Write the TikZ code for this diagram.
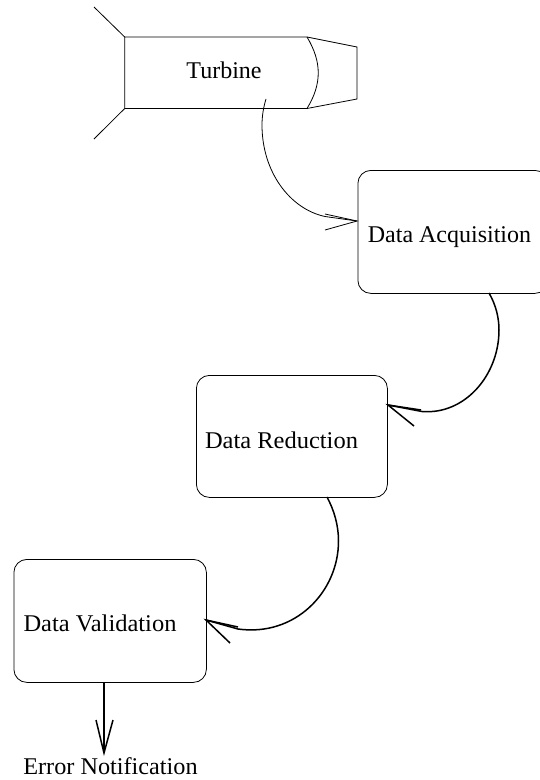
\documentclass[tikz,border=0pt]{standalone}
\usepackage{fontspec}
\setmainfont{Liberation Serif}
\tikzset{
  box/.style={draw=black,line width=0.8pt,rounded corners=13pt,inner sep=0pt,anchor=north west},
  lbl/.style={inner sep=0pt,anchor=base,font=\fontsize{24}{28}\selectfont,text=black},
  thin line/.style={draw=black,line width=0.8pt},
  thick line/.style={draw=black,line width=1.5pt}
}
\begin{document}
\begin{tikzpicture}[x=1pt,y=-1pt,line join=miter]
\useasboundingbox (0,0) rectangle (540,780);
\fill[white] (0,0) rectangle (540,780);
% turbine
\coordinate (wt) at (94,7);
\coordinate (wb) at (94,139);
\coordinate (tl) at (124.7,37);
\coordinate (bl) at (124.7,108.5);
\coordinate (tr) at (307,37);
\coordinate (br) at (307,108.5);
\coordinate (nt) at (357,47);
\coordinate (nb) at (357,99);
\draw[thin line] (wt) -- (tl) -- (tr) -- (nt) -- (nb) -- (br) -- (bl) -- (tl);
\draw[thin line] (wb) -- (bl);
\draw[thin line] (tr) .. controls (322,62) and (322,84) .. (br);
\node[lbl] (turbine) at (224,78) {Turbine};
% boxes
\node[box,minimum width=190pt,minimum height=123pt] (acq) at (357.5,170) {};
\node[box,minimum width=191pt,minimum height=122pt] (red) at (196,375) {};
\node[box,minimum width=192.5pt,minimum height=123pt] (val) at (13.5,559) {};
\node[lbl] (acqt) at (449.5,242) {Data Acquisition};
\node[lbl,xscale=1.02] (redt) at (281.5,448) {Data Reduction};
\node[lbl,xscale=1.02] (valt) at (100,631.5) {Data Validation};
\node[lbl,xscale=1.01] (err) at (110.5,774) {Error Notification};
% connector 1
\coordinate (s1) at (266,99);
\coordinate (e1) at (357,221);
\coordinate (b1a) at (325,214);
\coordinate (b1b) at (325,230);
\draw[thin line] (s1) .. controls (263.5,107) and (262,116) .. (262,125) .. controls (262,172) and (290,209) .. (325,216.5) -- (e1);
\draw[thin line] (b1a) -- (e1) -- (b1b);
% connector 2
\coordinate (s2) at (489,293);
\coordinate (e2) at (388,405);
\coordinate (j2) at (421,410);
\coordinate (b2) at (414,426);
\draw[thick line] (s2) .. controls (496,305) and (499,318) .. (499,330) .. controls (499,375) and (465,415) .. (422,411.5) -- (e2);
\draw[thick line] (j2) -- (e2) -- (b2);
% connector 3
\coordinate (s3) at (327,497);
\coordinate (e3) at (206,620);
\coordinate (j3) at (238,627);
\coordinate (b3) at (230,643);
\draw[thick line] (s3) .. controls (334,510) and (338.5,525) .. (338.5,541) .. controls (338.5,592) and (295,637) .. (238,629) -- (e3);
\draw[thick line] (j3) -- (e3) -- (b3);
% connector 4
\coordinate (s4) at (104,682);
\coordinate (e4) at (104,753);
\coordinate (b4a) at (96,720);
\coordinate (b4b) at (113,720);
\draw[thick line] (s4) -- (e4);
\draw[thick line] (b4a) -- (e4) -- (b4b);
\end{tikzpicture}
\end{document}
